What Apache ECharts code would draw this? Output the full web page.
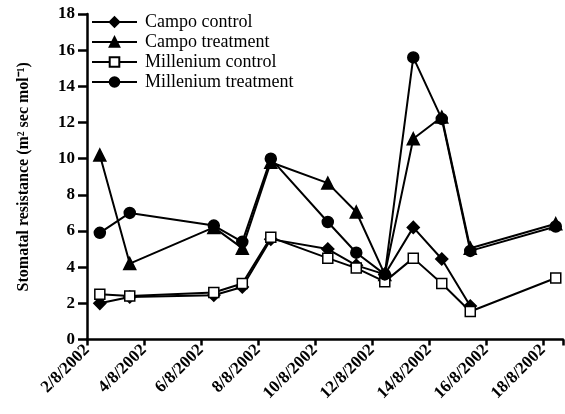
<!DOCTYPE html>
<html>
<head>
<meta charset="utf-8">
<script src="https://cdn.jsdelivr.net/npm/echarts@6/dist/echarts.min.js"></script>
<style>
    html, body { margin: 0; padding: 0; background: #fff; }
    #main { width: 565px; height: 414px; }
</style>
</head>
<body>
<div id="main"></div>
<script type="text/javascript">
    // days of August 2002 (measurement times)
    var days = [2.45, 3.5, 6.45, 7.45, 8.45, 10.45, 11.45, 12.45, 13.45, 14.45, 15.45, 18.45];
    var campoControl = [2.0, 2.35, 2.45, 2.9, 5.55, 5.0, 4.1, 3.6, 6.2, 4.45, 1.85, null];
    var campoTreatment = [10.2, 4.2, 6.2, 5.05, 9.8, 8.65, 7.05, 3.6, 11.1, 12.3, 5.05, 6.4];
    var milleniumControl = [2.5, 2.4, 2.6, 3.1, 5.65, 4.5, 3.95, 3.2, 4.5, 3.1, 1.55, 3.4];
    var milleniumTreatment = [5.9, 7.0, 6.3, 5.4, 10.0, 6.5, 4.8, 3.6, 15.6, 12.2, 4.9, 6.25];
    var names = ['Campo control', 'Campo treatment', 'Millenium control', 'Millenium treatment'];

    var font = 'Liberation Serif';

    function pairs(vals) {
        var out = [];
        for (var i = 0; i < days.length; i++) {
            out.push([days[i], vals[i]]);
        }
        return out;
    }

    function mkSeries(name, vals, symbol, size, fill) {
        return {
            name: name,
            type: 'line',
            data: pairs(vals),
            symbol: symbol,
            symbolSize: size,
            showAllSymbol: true,
            connectNulls: false,
            lineStyle: { color: '#000', width: 2 },
            itemStyle: { color: fill, borderColor: '#000', borderWidth: 1.5 },
            emphasis: { disabled: true }
        };
    }

    var chart = echarts.init(document.getElementById('main'));
    var options = {
        animation: false,
        backgroundColor: '#fff',
        grid: { left: 87, right: 0, top: 14, bottom: 74.5, containLabel: false },
        legend: {
            orient: 'vertical',
            left: 91,
            top: 12,
            padding: 0,
            itemWidth: 45,
            itemHeight: 12,
            itemGap: 0,
            textStyle: { fontFamily: font, fontSize: 18, color: '#000', lineHeight: 20, padding: [0, 0, 0, 3] },
            data: names
        },
        xAxis: {
            type: 'value',
            min: 2,
            max: 18.7,
            interval: 2,
            splitLine: { show: false },
            axisLine: { lineStyle: { color: '#000', width: 2.5 } },
            axisTick: { length: 6, lineStyle: { color: '#000', width: 2.5 } },
            axisLabel: {
                rotate: 45,
                margin: 8,
                fontFamily: font,
                fontWeight: 'bold',
                fontSize: 17,
                color: '#000',
                formatter: function (v) {
                    return (v % 2 === 0) ? v + '/8/2002' : '';
                }
            }
        },
        yAxis: {
            type: 'value',
            min: 0,
            max: 18,
            interval: 2,
            name: 'Stomatal resistance (m² sec mol⁻¹)',
            nameLocation: 'middle',
            nameGap: 55,
            nameTextStyle: { fontFamily: font, fontWeight: 'bold', fontSize: 16, color: '#000' },
            splitLine: { show: false },
            axisLine: { show: true, lineStyle: { color: '#000', width: 2.5 } },
            axisTick: { show: true, length: 9, lineStyle: { color: '#000', width: 2.5 } },
            axisLabel: { fontFamily: font, fontWeight: 'bold', fontSize: 17, color: '#000', margin: 12 }
        },
        series: [
            mkSeries(names[0], campoControl, 'diamond', 12, '#000'),
            mkSeries(names[1], campoTreatment, 'triangle', 12, '#000'),
            mkSeries(names[2], milleniumControl, 'rect', 10, '#fff'),
            mkSeries(names[3], milleniumTreatment, 'circle', 11, '#000')
        ]
    };
    chart.setOption(options);
</script>
</body>
</html>
